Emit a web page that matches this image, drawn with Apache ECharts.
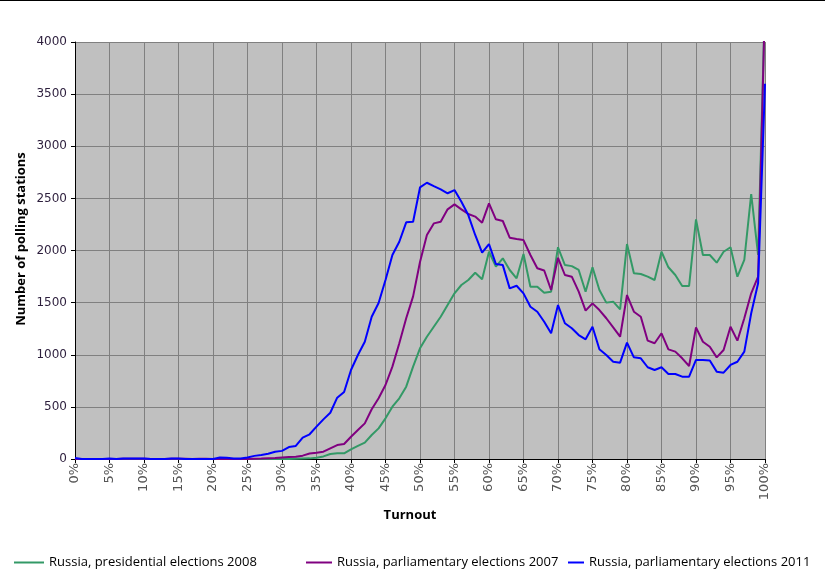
<!DOCTYPE html>
<html>
<head>
<meta charset="utf-8">
<script src="https://cdn.jsdelivr.net/npm/echarts@6/dist/echarts.min.js"></script>
<style>
html,body{margin:0;padding:0;background:#fff;}
#chart{width:825px;height:586px;}
</style>
</head>
<body>
<div id="chart"></div>
<script>
// Turnout categories 0%..100%
var turnout = [];
for (var i = 0; i <= 100; i++) turnout.push(i + '%');

var seriesNames = [
  'Russia, presidential elections 2008',
  'Russia, parliamentary elections 2007',
  'Russia, parliamentary elections 2011'
];

// Russia, presidential elections 2008
var pres2008 = [
  0,0,0,0,0,0,0,0,0,0,
  0,0,0,0,0,0,0,0,0,0,
  0,0,0,0,0,0,0,0,0,0,
  0,0,2,4,6,12,25,48,54,54,
  93,125,157,230,294,390,502,582,694,886,
  1062,1173,1269,1365,1477,1589,1669,1717,1787,1724,
  1988,1845,1925,1813,1733,1966,1653,1653,1595,1605,
  2031,1861,1850,1813,1605,1839,1621,1500,1509,1436,
  2062,1781,1775,1749,1717,1988,1839,1765,1660,1660,
  2299,1957,1957,1883,1988,2031,1749,1909,2542,1957,
  4400
];

// Russia, parliamentary elections 2007
var parl2007 = [
  0,0,0,0,0,0,0,3,3,3,
  3,0,0,0,3,3,3,0,3,3,
  0,0,0,0,0,0,3,5,8,10,
  15,20,22,32,52,60,70,102,134,144,
  214,278,342,477,582,710,886,1110,1350,1560,
  1890,2149,2260,2276,2395,2443,2395,2350,2325,2267,
  2452,2299,2283,2123,2110,2100,1957,1829,1808,1621,
  1930,1765,1749,1605,1423,1493,1429,1350,1263,1173,
  1573,1413,1365,1135,1110,1206,1052,1030,966,892,
  1263,1125,1077,975,1045,1269,1135,1350,1589,1749,
  4400
];

// Russia, parliamentary elections 2011
var parl2011 = [
  10,0,0,0,0,5,0,5,5,5,
  5,0,0,0,5,5,0,0,0,0,
  0,15,12,5,5,15,30,38,50,70,
  78,115,125,205,237,310,380,444,588,643,
  854,998,1125,1365,1496,1717,1957,2084,2270,2276,
  2605,2650,2618,2587,2549,2580,2468,2340,2149,1979,
  2062,1870,1860,1637,1662,1589,1461,1413,1317,1206,
  1477,1302,1254,1189,1148,1269,1052,998,933,924,
  1116,975,966,880,854,880,815,815,790,790,
  950,950,945,838,828,902,933,1030,1398,1685,
  3600
];

var xTitle = 'Turnout';
var yTitle = 'Number of polling stations';

var colors = ['#339966', '#800080', '#0000FF'];
var fontFam = '"Open Sans", "DejaVu Sans", sans-serif';
var tickFont = '"DejaVu Sans", Verdana, sans-serif';

var chart = echarts.init(document.getElementById('chart'), null, {renderer: 'canvas'});

function mkLegend(idx, left, iw) {
  return {
    data: [seriesNames[idx]],
    left: left,
    top: 556,
    icon: 'rect',
    itemWidth: iw,
    itemHeight: 2,
    itemGap: 0,
    padding: 0,
    textStyle: {fontFamily: fontFam, fontSize: 13, color: '#000'}
  };
}

var option = {
  animation: false,
  backgroundColor: '#ffffff',
  color: colors,
  grid: {left: 75, right: 60, top: 42, bottom: 127, show: true, backgroundColor: '#C0C0C0', borderWidth: 0},
  legend: [mkLegend(0, 14, 30), mkLegend(1, 306, 26), mkLegend(2, 568, 16)],
  xAxis: {
    type: 'category',
    data: turnout,
    boundaryGap: false,
    axisLine: {lineStyle: {color: '#000', width: 1}},
    axisTick: {interval: 4, length: 4, inside: false, lineStyle: {color: '#000'}},
    axisLabel: {interval: 4, rotate: 90, fontFamily: tickFont, fontSize: 13, color: '#555', margin: 4},
    splitLine: {show: true, interval: 4, lineStyle: {color: '#808080', width: 1}}
  },
  yAxis: {
    type: 'value',
    min: 0,
    max: 4000,
    interval: 500,
    axisLine: {show: true, lineStyle: {color: '#000', width: 1}},
    axisTick: {show: true, length: 4, lineStyle: {color: '#000'}},
    axisLabel: {fontFamily: tickFont, fontSize: 12, color: '#2d1f3d', margin: 8,
      formatter: function (v) { return String(v); }},
    splitLine: {show: true, lineStyle: {color: '#808080', width: 1}}
  },
  series: [
    {name: seriesNames[0], type: 'line', data: pres2008, showSymbol: false, symbol: 'none', lineStyle: {width: 2, color: colors[0]}, clip: true},
    {name: seriesNames[1], type: 'line', data: parl2007, showSymbol: false, symbol: 'none', lineStyle: {width: 2, color: colors[1]}, clip: true},
    {name: seriesNames[2], type: 'line', data: parl2011, showSymbol: false, symbol: 'none', lineStyle: {width: 2, color: colors[2]}, clip: true}
  ],
  graphic: [
    {type: 'rect', shape: {x: 0, y: 0, width: 825, height: 1}, style: {fill: '#000'}},
    {type: 'text', x: 410, y: 515, style: {text: xTitle, font: 'bold 13px "Open Sans", sans-serif', fill: '#000', align: 'center', verticalAlign: 'middle'}},
    {type: 'text', x: 21, y: 239, rotation: Math.PI / 2, style: {text: yTitle, font: 'bold 13px "Open Sans", sans-serif', fill: '#000', align: 'center', verticalAlign: 'middle'}}
  ]
};
chart.setOption(option);
</script>
</body>
</html>
